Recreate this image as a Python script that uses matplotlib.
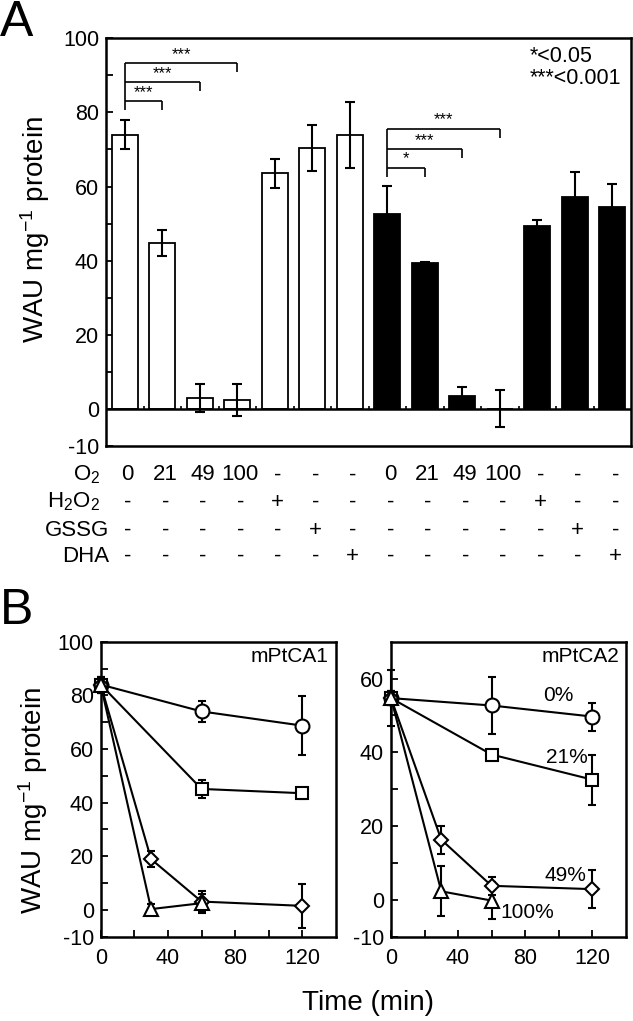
import matplotlib
matplotlib.use('Agg')
import matplotlib.pyplot as plt
import numpy as np

plt.rcParams['font.family'] = ['Liberation Sans', 'DejaVu Sans']
plt.rcParams['mathtext.fontset'] = 'custom'
plt.rcParams['mathtext.rm'] = 'Liberation Sans'
plt.rcParams['mathtext.it'] = 'Liberation Sans:italic'
plt.rcParams['mathtext.default'] = 'regular'
plt.rcParams['axes.unicode_minus'] = False

# ---------------- Panel A data ----------------
a_values = [74.0, 44.8, 3.0, 2.5, 63.6, 70.4, 73.8, 52.6, 39.3, 3.6, 0.2, 49.5, 57.1, 54.6]
a_errors = [3.8, 3.5, 3.7, 4.4, 3.9, 6.2, 8.9, 7.5, 0.3, 2.5, 5.0, 1.5, 6.8, 6.2]
a_colors = ['white'] * 7 + ['black'] * 7
row_names = ['O$_2$', 'H$_2$O$_2$', 'GSSG', 'DHA']
row_o2 = ['0', '21', '49', '100', '-', '-', '-', '0', '21', '49', '100', '-', '-', '-']
row_h2o2 = ['-', '-', '-', '-', '+', '-', '-', '-', '-', '-', '-', '+', '-', '-']
row_gssg = ['-', '-', '-', '-', '-', '+', '-', '-', '-', '-', '-', '-', '+', '-']
row_dha = ['-', '-', '-', '-', '-', '-', '+', '-', '-', '-', '-', '-', '-', '+']
sig_groups = [[(0, 1, '***'), (0, 2, '***'), (0, 3, '***')],
              [(7, 8, '*'), (7, 9, '***'), (7, 10, '***')]]
sig_heights = [[83.0, 88.1, 93.2], [65.1, 70.0, 75.6]]
legend_lines = ['*<0.05', '***<0.001']

# ---------------- Panel B data ----------------
b1_circle_t = [0, 60, 120]
b1_circle_y = [84.0, 74.0, 68.7]
b1_circle_e = [3.0, 4.0, 11.0]
b1_square_t = [0, 60, 120]
b1_square_y = [84.0, 45.1, 43.5]
b1_square_e = [3.0, 3.5, 2.0]
b1_diamond_t = [0, 30, 60, 120]
b1_diamond_y = [84.0, 18.9, 3.1, 1.5]
b1_diamond_e = [3.0, 3.0, 4.0, 8.2]
b1_triangle_t = [0, 30, 60]
b1_triangle_y = [84.0, 0.3, 2.5]
b1_triangle_e = [2.5, 2.0, 3.5]

b2_circle_t = [0, 60, 120]
b2_circle_y = [54.7, 52.7, 49.7]
b2_circle_e = [7.6, 7.8, 3.8]
b2_square_t = [0, 60, 120]
b2_square_y = [54.7, 39.4, 32.6]
b2_square_e = [2.0, 1.0, 6.8]
b2_diamond_t = [0, 30, 60, 120]
b2_diamond_y = [54.7, 16.3, 3.8, 2.9]
b2_diamond_e = [2.0, 3.8, 2.4, 5.2]
b2_triangle_t = [0, 30, 60]
b2_triangle_y = [54.7, 2.3, -0.2]
b2_triangle_e = [2.0, 6.8, 5.0]
b2_labels = ['0%', '21%', '49%', '100%']
b2_label_xy = [(100, 55.5), (105, 38.5), (104, 6.5), (81, -3.5)]

FS = 15.5
ROWFS = 16
LW = 1.5

fig = plt.figure(figsize=(6.33, 10.21), dpi=100)

# ================= Panel A =================
axA = fig.add_axes([106 / 633, 1 - 446.5 / 1021, 525 / 633, 408.5 / 1021])
x = np.arange(len(a_values))
axA.bar(x, a_values, width=0.7, color=a_colors, edgecolor='black', linewidth=1.3, zorder=2)
axA.errorbar(x, a_values, yerr=a_errors, fmt='none', ecolor='black', elinewidth=1.5,
             capsize=3.5, capthick=1.5, zorder=3)
axA.axhline(0, color='black', lw=1.8, zorder=4)
axA.vlines(x[:-1] + 0.5, 0, 1.0, color='black', lw=1.2, zorder=4)
axA.set_xlim(-0.5, len(a_values) - 0.5)
axA.set_ylim(-10, 100)
axA.set_xticks([])
axA.set_yticks([-10, 0, 20, 40, 60, 80, 100])
axA.set_yticks([10, 30, 50, 70, 90], minor=True)
axA.tick_params(axis='y', which='both', direction='in', length=5, width=1.3,
                labelsize=FS, pad=5)
for s in axA.spines.values():
    s.set_linewidth(1.8)
axA.set_ylabel('WAU mg$^{-1}$ protein', fontsize=20)
axA.yaxis.set_label_coords(-0.103, 0.53)

# significance brackets
for group, heights in zip(sig_groups, sig_heights):
    left = group[0][0]
    axA.vlines(left, min(heights) - 2.4, max(heights), color='black', lw=1.2)
    for (i, j, lab), h in zip(group, heights):
        axA.hlines(h, i, j, color='black', lw=1.2)
        axA.vlines(j, h - 2.4, h, color='black', lw=1.2)
        axA.text((i + j) / 2, h + 0.3, lab, ha='center', va='bottom', fontsize=12)

axA.text(0.808, 0.954, legend_lines[0], transform=axA.transAxes, ha='left', va='center', fontsize=FS)
axA.text(0.808, 0.901, legend_lines[1], transform=axA.transAxes, ha='left', va='center', fontsize=FS)

# condition rows
rows = [row_o2, row_h2o2, row_gssg, row_dha]
row_y_px = [475, 502, 530, 556]
row_label_right_px = [100, 100, 109, 109]
for name, vals, ypx, rpx in zip(row_names, rows, row_y_px, row_label_right_px):
    yfrac = (446.5 - ypx) / 408.5
    fig.text(rpx / 633, 1 - ypx / 1021, name, ha='right', va='center', fontsize=ROWFS)
    for xi, v in zip(x, vals):
        axA.text(xi + 0.08, yfrac, v, transform=axA.get_xaxis_transform(), ha='center',
                 va='center', fontsize=ROWFS, clip_on=False)

fig.text(0.0, 1.0, 'A', ha='left', va='top', fontsize=36)

# ================= Panel B =================
def style_b(ax, ylim, yticks, yminor):
    ax.set_xlim(0, 140)
    ax.set_ylim(*ylim)
    ax.set_xticks([0, 40, 80, 120])
    ax.set_xticks([20, 60, 100], minor=True)
    ax.set_yticks(yticks)
    ax.set_yticks(yminor, minor=True)
    ax.tick_params(which='both', direction='in', length=5, width=1.3, labelsize=FS, pad=5)
    ax.tick_params(axis='x', pad=8)
    for s in ax.spines.values():
        s.set_linewidth(1.8)

def draw_series(ax, t, y, e, marker, ms):
    ax.errorbar(t, y, yerr=e, fmt='none', ecolor='black', elinewidth=1.5,
                capsize=3, capthick=1.5, zorder=2, clip_on=False)
    ax.plot(t, y, color='black', lw=LW, marker=marker, ms=ms, mfc='white',
            mec='black', mew=1.5, zorder=3, clip_on=False)

axB1 = fig.add_axes([100.7 / 633, 1 - 936.7 / 1021, 235.3 / 633, 295 / 1021])
style_b(axB1, (-10, 100), [-10, 0, 20, 40, 60, 80, 100], [10, 30, 50, 70, 90])
draw_series(axB1, b1_circle_t, b1_circle_y, b1_circle_e, 'o', 10)
draw_series(axB1, b1_square_t, b1_square_y, b1_square_e, 's', 9)
draw_series(axB1, b1_diamond_t, b1_diamond_y, b1_diamond_e, 'D', 7.5)
draw_series(axB1, b1_triangle_t, b1_triangle_y, b1_triangle_e, '^', 10)
axB1.text(0.966, 0.95, 'mPtCA1', transform=axB1.transAxes, ha='right', va='center', fontsize=15)
axB1.set_ylabel('WAU mg$^{-1}$ protein', fontsize=20)
axB1.yaxis.set_label_coords(-0.215, 0.463)

axB2 = fig.add_axes([391 / 633, 1 - 936.7 / 1021, 234.7 / 633, 295 / 1021])
style_b(axB2, (-10, 70), [-10, 0, 20, 40, 60], [10, 30, 50])
draw_series(axB2, b2_circle_t, b2_circle_y, b2_circle_e, 'o', 10)
draw_series(axB2, b2_square_t, b2_square_y, b2_square_e, 's', 9)
draw_series(axB2, b2_diamond_t, b2_diamond_y, b2_diamond_e, 'D', 7.5)
draw_series(axB2, b2_triangle_t, b2_triangle_y, b2_triangle_e, '^', 10)
axB2.text(0.971, 0.95, 'mPtCA2', transform=axB2.transAxes, ha='right', va='center', fontsize=15)
for lab, (lx, ly) in zip(b2_labels, b2_label_xy):
    axB2.text(lx, ly, lab, ha='center', va='center', fontsize=15)

fig.text(367.5 / 633, 1 - 1003 / 1021, 'Time (min)', ha='center', va='center', fontsize=20)
fig.text(0.0, 1 - 588 / 1021, 'B', ha='left', va='top', fontsize=36)

fig.savefig('out.png', dpi=100)
